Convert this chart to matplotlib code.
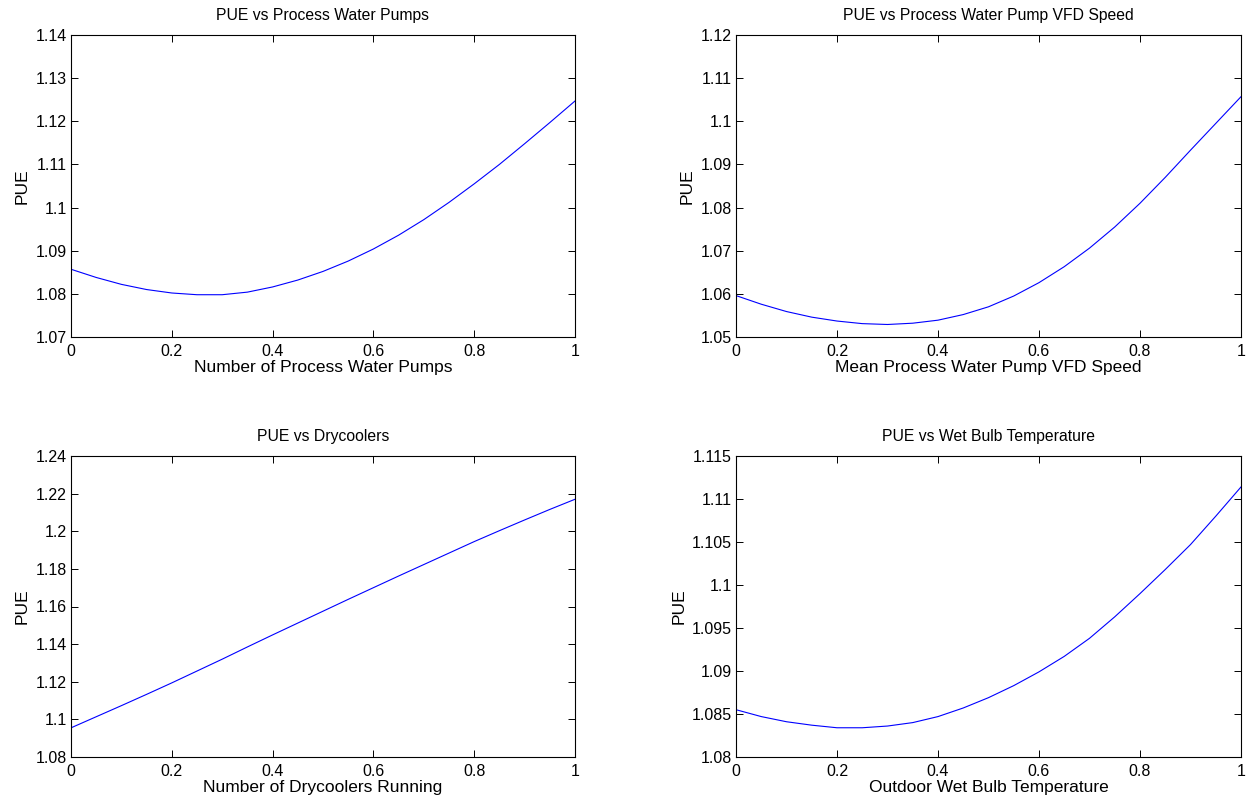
"""PUE response curves, four panels in MATLAB style."""

import matplotlib.pyplot as plt
from matplotlib.ticker import FuncFormatter

plt.rcParams["font.family"] = ["Liberation Sans", "DejaVu Sans"]

x_vals = [0.0, 0.05, 0.1, 0.15, 0.2, 0.25, 0.3, 0.35, 0.4, 0.45, 0.5,
          0.55, 0.6, 0.65, 0.7, 0.75, 0.8, 0.85, 0.9, 0.95, 1.0]

pue_pumps = [1.0857, 1.0838, 1.0822, 1.0810, 1.0802, 1.0798, 1.0798,
             1.0804, 1.0816, 1.0832, 1.0852, 1.0876, 1.0904, 1.0936,
             1.0972, 1.1012, 1.1055, 1.1100, 1.1148, 1.1197, 1.1247]
pue_vfd = [1.0596, 1.0576, 1.0559, 1.0546, 1.0537, 1.0531, 1.0529,
           1.0532, 1.0539, 1.0552, 1.0570, 1.0595, 1.0626, 1.0663,
           1.0706, 1.0755, 1.0810, 1.0870, 1.0933, 1.0995, 1.1057]
pue_drycoolers = [1.0955, 1.1014, 1.1073, 1.1133, 1.1194, 1.1257, 1.1320,
                  1.1385, 1.1449, 1.1512, 1.1575, 1.1638, 1.1700, 1.1762,
                  1.1823, 1.1884, 1.1945, 1.2003, 1.2060, 1.2116, 1.2170]
pue_wetbulb = [1.0855, 1.0847, 1.0841, 1.0837, 1.0834, 1.0834, 1.0836,
               1.0840, 1.0847, 1.0857, 1.0869, 1.0883, 1.0899, 1.0917,
               1.0938, 1.0963, 1.0990, 1.1018, 1.1047, 1.1080, 1.1114]

titles = ["PUE vs Process Water Pumps", "PUE vs Process Water Pump VFD Speed",
          "PUE vs Drycoolers", "PUE vs Wet Bulb Temperature"]
xlabels = ["Number of Process Water Pumps", "Mean Process Water Pump VFD Speed",
           "Number of Drycoolers Running", "Outdoor Wet Bulb Temperature"]
ylims = [(1.07, 1.14), (1.05, 1.12), (1.08, 1.24), (1.08, 1.115)]
ysteps = [0.01, 0.01, 0.02, 0.005]
series = [pue_pumps, pue_vfd, pue_drycoolers, pue_wetbulb]

W, H = 1247, 799
fig = plt.figure(figsize=(W / 100, H / 100), dpi=100)

# axes boxes in pixels: left, top, right, bottom
boxes = [(71, 35, 575, 337), (736, 35, 1241, 337),
         (71, 456, 575, 757), (736, 456, 1241, 757)]

for i in range(4):
    l, t, r, b = boxes[i]
    ax = fig.add_axes([l / W, 1 - b / H, (r - l) / W, (b - t) / H])
    ax.plot(x_vals, series[i], color="#0000ff", linewidth=0.8)
    ax.set_xlim(0, 1)
    lo, hi = ylims[i]
    ax.set_ylim(lo, hi)
    n = int(round((hi - lo) / ysteps[i]))
    ax.set_yticks([lo + k * ysteps[i] for k in range(n + 1)])
    ax.set_xticks([0, 0.2, 0.4, 0.6, 0.8, 1.0])
    ax.xaxis.set_major_formatter(FuncFormatter(lambda v, p: f"{v:g}"))
    ax.yaxis.set_major_formatter(FuncFormatter(lambda v, p: f"{round(v, 4):g}"))
    ax.tick_params(direction="in", length=5, width=0.7, top=True, right=True,
                   labelsize=11.5, colors="black")
    ax.tick_params(axis="x", pad=5)
    ax.tick_params(axis="y", pad=3)
    for s in ax.spines.values():
        s.set_linewidth(0.8)
    ax.set_title(titles[i], fontsize=11.3, pad=11)
    ax.set_xlabel(xlabels[i], fontsize=12.5, labelpad=1)
    ax.set_ylabel("PUE", fontsize=12.5, labelpad=4)

fig.savefig("out.png", dpi=100)
